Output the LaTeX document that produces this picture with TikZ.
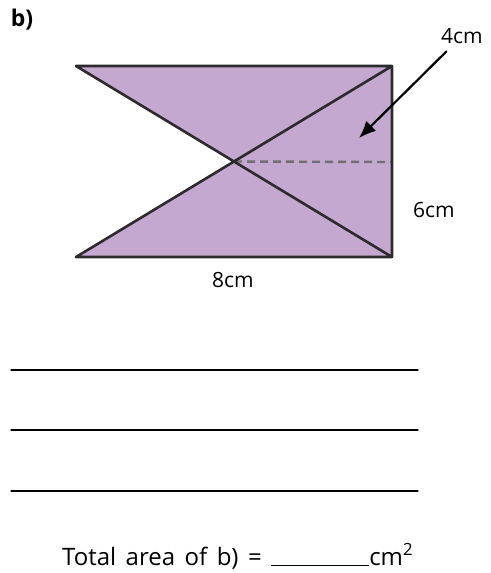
\documentclass[tikz,border=0pt]{standalone}
\usepackage{fontspec}
\setmainfont{Open Sans}
\usetikzlibrary{arrows.meta}
\definecolor{shapefill}{RGB}{196,168,208}
\definecolor{edgegrey}{RGB}{45,42,46}
\definecolor{dashgrey}{RGB}{112,110,114}
\begin{document}
\begin{tikzpicture}[x=1pt, y=-1pt, line join=round, line cap=round, >={Latex[length=17pt,width=14pt]}, font=\fontsize{21}{25}\selectfont]
					\useasboundingbox (0,0) rectangle (490,573);
					\coordinate (A) at (76,66);
					\coordinate (B) at (392,66);
					\coordinate (C) at (392,257);
					\coordinate (D) at (76,257);
					\coordinate (M) at (intersection of A--C and B--D);
					\coordinate (E) at (392,162);
					\coordinate (P) at (359,138);
					
					\fill[shapefill] (A) -- (B) -- (C) -- (D) -- (M) -- cycle;
					\draw[dashgrey, line width=2.4pt, line cap=butt, dash pattern=on 8pt off 5pt] (M) -- (E);
					\draw[edgegrey, line width=2.6pt] (A) -- (B) -- (C) -- (D) (A) -- (C) (D) -- (B);
					
					\node[font=\fontsize{23}{27}\bfseries] (lb) at (22,20) {b)};
					\node (l4) at (462,36) {4cm};
					\node (l6) at (434,210) {6cm};
					\node (l8) at (233,280) {8cm};
					\draw[->, line width=2.2pt, shorten <=6pt] (l4) -- (P);
					
					\foreach \y/\n in {370/1, 430/2, 491/3} {
						\coordinate (s\n) at (11,\y);
						\coordinate (e\n) at (418,\y);
						\draw[line width=1.3pt] (s\n) -- (e\n);
					}
					
					\node[anchor=base west, inner sep=0pt, font=\fontsize{24}{28}\selectfont] (tot) at (62,565)
						{\spaceskip=9.5pt Total area of b) = \rule[-1pt]{98pt}{1.2pt}cm\textsuperscript{2}};
				\end{tikzpicture}
\end{document}
